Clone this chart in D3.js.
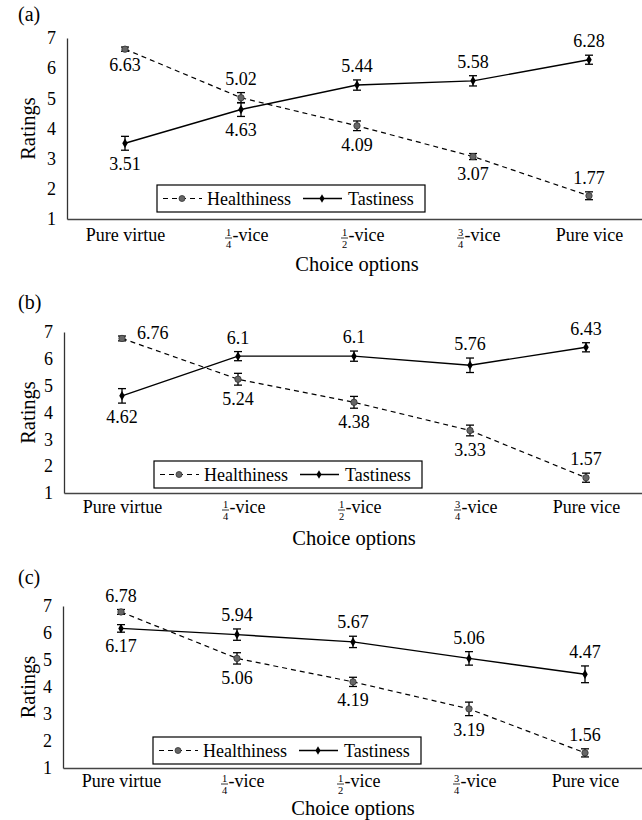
<!DOCTYPE html>
<html>
<head>
<meta charset="utf-8">
<script src="https://d3js.org/d3.v7.min.js"></script>
</head>
<body style="margin:0">
<div id="chart-area"></div>
<script>

// categories and tick labels
let categories = ["Pure virtue", "1/4-vice", "1/2-vice", "3/4-vice", "Pure vice"];
let yTicks = [1, 2, 3, 4, 5, 6, 7];
let panelNames = ["(a)", "(b)", "(c)"];
let seriesNames = ["Healthiness", "Tastiness"];

// mean ratings
let healthA = [6.63, 5.02, 4.09, 3.07, 1.77];
let tasteA  = [3.51, 4.63, 5.44, 5.58, 6.28];
let healthB = [6.76, 5.24, 4.38, 3.33, 1.57];
let tasteB  = [4.62, 6.1, 6.1, 5.76, 6.43];
let healthC = [6.78, 5.06, 4.19, 3.19, 1.56];
let tasteC  = [6.17, 5.94, 5.67, 5.06, 4.47];

// error bar half-widths
let healthErrA = [0.07, 0.17, 0.16, 0.10, 0.13];
let tasteErrA  = [0.23, 0.23, 0.17, 0.17, 0.15];
let healthErrB = [0.09, 0.22, 0.22, 0.20, 0.17];
let tasteErrB  = [0.27, 0.17, 0.19, 0.27, 0.17];
let healthErrC = [0.09, 0.21, 0.17, 0.25, 0.15];
let tasteErrC  = [0.14, 0.21, 0.21, 0.25, 0.31];

// where each value label sits
let healthLabelA = ["below", "above", "below", "below", "above"];
let tasteLabelA  = ["below", "below", "above", "above", "above"];
let healthLabelB = ["right", "below", "below", "below", "above"];
let tasteLabelB  = ["below", "above", "above", "above", "above"];
let healthLabelC = ["above", "below", "below", "below", "above"];
let tasteLabelC  = ["below", "above", "above", "above", "above"];

let width = 642,
	height = 820;

let FONT = "'Liberation Serif'";

// page layout of each panel
let layouts = [
	{label: 21,  top: 38,  bottom: 219, x0: 67, tick: 241, title: 271, legendY: 185},
	{label: 309, top: 332, bottom: 493, x0: 64, tick: 513, title: 545, legendY: 461},
	{label: 584, top: 606, bottom: 768, x0: 63, tick: 787, title: 815, legendY: 737}
];

let panels = [
	{health: healthA, taste: tasteA, hErr: healthErrA, tErr: tasteErrA, hPos: healthLabelA, tPos: tasteLabelA},
	{health: healthB, taste: tasteB, hErr: healthErrB, tErr: tasteErrB, hPos: healthLabelB, tPos: tasteLabelB},
	{health: healthC, taste: tasteC, hErr: healthErrC, tErr: tasteErrC, hPos: healthLabelC, tPos: tasteLabelC}
];

let svg = d3.select("#chart-area").append("svg")
	.attr("width", width)
	.attr("height", height);

panels.forEach((p, i) => drawPanel(p, layouts[i], panelNames[i]));

// every text in serif
svg.selectAll("text").style("font-family", FONT);

function drawPanel(p, L, name) {

	let g = svg.append("g");

	let x = d3.scalePoint()
		.domain(categories)
		.range([L.x0, L.x0 + 580])
		.padding(0.5);

	let y = d3.scaleLinear()
		.domain([1, 7])
		.range([L.bottom, L.top]);

	// panel letter
	g.append("text")
		.attr("x", 18)
		.attr("y", L.label)
		.attr("font-size", 20)
		.text(name);

	// y axis
	let yAxis = g.append("g")
		.attr("transform", "translate(" + L.x0 + ",0)")
		.call(d3.axisLeft(y).tickValues(yTicks).tickSize(0).tickPadding(11).tickFormat(d3.format("d")));
	yAxis.attr("font-family", null);
	yAxis.select(".domain").attr("stroke", "#333").attr("stroke-width", 1.3);
	yAxis.selectAll("text").attr("font-size", 18).attr("fill", "#000");

	// x axis
	let xAxis = g.append("g")
		.attr("transform", "translate(0," + L.bottom + ")")
		.call(d3.axisBottom(x).tickSize(0));
	xAxis.attr("font-family", null);
	xAxis.select(".domain").attr("stroke", "#444").attr("stroke-width", 1.3);
	xAxis.selectAll(".tick").each(function(d) {
		let t = d3.select(this);
		let txt = t.select("text")
			.attr("y", L.tick - L.bottom)
			.attr("dy", null)
			.attr("font-size", 18)
			.attr("fill", "#000");
		let m = d.match(/^(\d)\/(\d)-(.*)$/);
		if (m) {
			let base = L.tick - L.bottom;
			txt.attr("text-anchor", "start").attr("x", -9).text("-" + m[3]);
			t.append("text")
				.attr("x", -13).attr("y", base - 5)
				.attr("text-anchor", "middle")
				.attr("font-size", 10.5).attr("fill", "#000")
				.text(m[1]);
			t.append("line")
				.attr("x1", -16.5).attr("x2", -9.5)
				.attr("y1", base - 3).attr("y2", base - 3)
				.attr("stroke", "#000").attr("stroke-width", 0.8);
			t.append("text")
				.attr("x", -13).attr("y", base + 6.5)
				.attr("text-anchor", "middle")
				.attr("font-size", 10.5).attr("fill", "#000")
				.text(m[2]);
		}
	});

	// axis titles
	g.append("text")
		.attr("transform", "translate(28," + ((L.top + L.bottom) / 2) + ") rotate(-90)")
		.attr("text-anchor", "middle")
		.attr("dy", "0.35em")
		.attr("font-size", 20.5)
		.text("Ratings");

	g.append("text")
		.attr("x", L.x0 + 290)
		.attr("y", L.title)
		.attr("text-anchor", "middle")
		.attr("font-size", 20.5)
		.text("Choice options");

	let line = d3.line()
		.x((d, j) => x(categories[j]))
		.y(d => y(d));

	// lines
	g.append("path")
		.datum(p.health)
		.attr("d", line)
		.attr("fill", "none")
		.attr("stroke", "#000")
		.attr("stroke-width", 1.2)
		.attr("stroke-dasharray", "5,4");

	g.append("path")
		.datum(p.taste)
		.attr("d", line)
		.attr("fill", "none")
		.attr("stroke", "#000")
		.attr("stroke-width", 1.4);

	drawSeries(g, x, y, p.health, p.hErr, p.hPos, "health");
	drawSeries(g, x, y, p.taste, p.tErr, p.tPos, "taste");

	// legend
	let lx = L.x0 + 90, ly = L.legendY;
	let leg = g.append("g").attr("transform", "translate(" + lx + "," + ly + ")");
	leg.append("rect")
		.attr("width", 268).attr("height", 27)
		.attr("fill", "#fff").attr("stroke", "#000").attr("stroke-width", 1.2);
	leg.append("line")
		.attr("x1", 6).attr("x2", 45).attr("y1", 13.5).attr("y2", 13.5)
		.attr("stroke", "#000").attr("stroke-width", 1.2).attr("stroke-dasharray", "5,4");
	leg.append("circle")
		.attr("cx", 25).attr("cy", 13.5).attr("r", 3)
		.attr("fill", "#666").attr("stroke", "#333").attr("stroke-width", 0.8);
	leg.append("text")
		.attr("x", 50).attr("y", 19.5)
		.attr("font-size", 18)
		.text(seriesNames[0]);
	leg.append("line")
		.attr("x1", 146).attr("x2", 185).attr("y1", 13.5).attr("y2", 13.5)
		.attr("stroke", "#000").attr("stroke-width", 1.4);
	leg.append("path")
		.attr("d", d3.symbol(d3.symbolDiamond, 22)())
		.attr("transform", "translate(165,13.5)")
		.attr("fill", "#000");
	leg.append("text")
		.attr("x", 191).attr("y", 19.5)
		.attr("font-size", 18)
		.text(seriesNames[1]);
}

function drawSeries(g, x, y, values, errs, pos, kind) {

	let data = values.map((v, j) => ({cat: categories[j], v: v, e: errs[j], pos: pos[j]}));

	let pts = g.append("g").selectAll("g").data(data).enter().append("g");

	// error bars
	pts.append("line")
		.attr("x1", d => x(d.cat)).attr("x2", d => x(d.cat))
		.attr("y1", d => y(d.v - d.e)).attr("y2", d => y(d.v + d.e))
		.attr("stroke", "#000").attr("stroke-width", 1.3);
	pts.append("line")
		.attr("x1", d => x(d.cat) - 4).attr("x2", d => x(d.cat) + 4)
		.attr("y1", d => y(d.v + d.e)).attr("y2", d => y(d.v + d.e))
		.attr("stroke", "#000").attr("stroke-width", 1.3);
	pts.append("line")
		.attr("x1", d => x(d.cat) - 4).attr("x2", d => x(d.cat) + 4)
		.attr("y1", d => y(d.v - d.e)).attr("y2", d => y(d.v - d.e))
		.attr("stroke", "#000").attr("stroke-width", 1.3);

	// markers
	if (kind === "health") {
		pts.append("circle")
			.attr("cx", d => x(d.cat)).attr("cy", d => y(d.v)).attr("r", 3.2)
			.attr("fill", "#666").attr("stroke", "#333").attr("stroke-width", 0.8);
	} else {
		pts.append("path")
			.attr("d", d3.symbol(d3.symbolDiamond, 26)())
			.attr("transform", d => "translate(" + x(d.cat) + "," + y(d.v) + ")")
			.attr("fill", "#000");
	}

	// value labels
	pts.append("text")
		.attr("font-size", 18)
		.attr("text-anchor", d => d.pos === "right" ? "start" : "middle")
		.attr("x", d => d.pos === "right" ? x(d.cat) + 15 : x(d.cat))
		.attr("y", d => {
			if (d.pos === "above") return y(d.v + d.e) - 8;
			if (d.pos === "below") return y(d.v - d.e) + 20;
			return y(d.v) + 1;
		})
		.text(d => String(d.v));
}

</script>
</body>
</html>
